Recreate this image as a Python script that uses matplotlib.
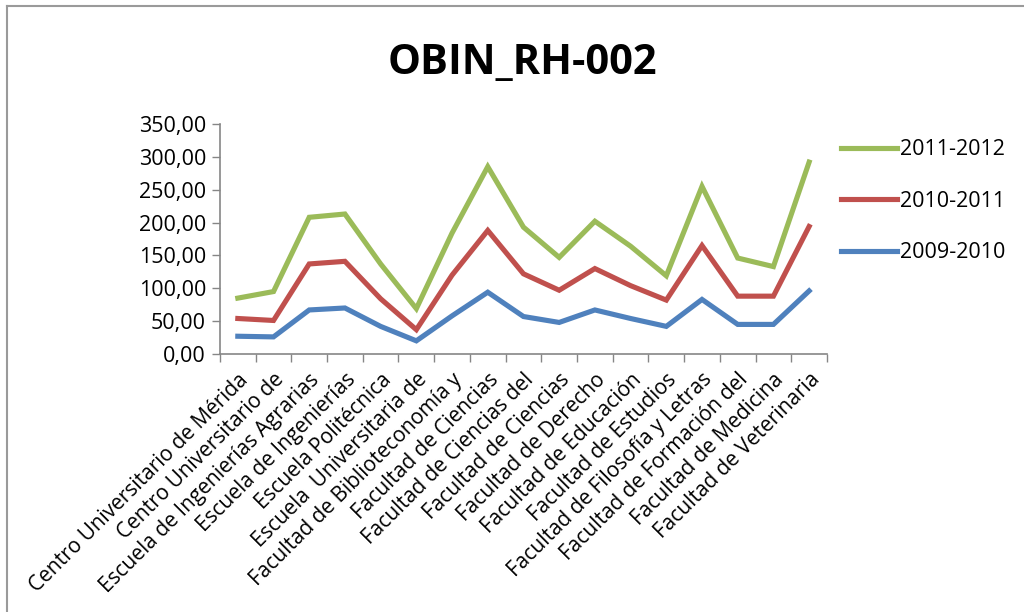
import matplotlib.pyplot as plt
import numpy as np
from matplotlib.ticker import FuncFormatter, MultipleLocator

centros = [
    "Centro Universitario de Mérida",
    "Centro Universitario de",
    "Escuela de Ingenierías Agrarias",
    "Escuela de Ingenierías",
    "Escuela Politécnica",
    "Escuela  Universitaria de",
    "Facultad de Biblioteconomía y",
    "Facultad de Ciencias",
    "Facultad de Ciencias del",
    "Facultad de Ciencias",
    "Facultad de Derecho",
    "Facultad de Educación",
    "Facultad de Estudios",
    "Facultad de Filosofía y Letras",
    "Facultad de Formación del",
    "Facultad de Medicina",
    "Facultad de Veterinaria",
]

# values per academic year (plotted stacked)
v_2009_2010 = [27, 26, 67, 70, 42, 20, 58, 94, 57, 48, 67, 54, 42, 83, 45, 45, 96]
v_2010_2011 = [27, 25, 70, 71, 42, 17, 62, 94, 65, 49, 63, 50, 40, 82, 43, 43, 98]
v_2011_2012 = [31, 44, 71, 72, 53, 32, 64, 97, 71, 50, 72, 60, 37, 90, 58, 45, 98]

series = [("2009-2010", v_2009_2010, "#4F81BD"),
          ("2010-2011", v_2010_2011, "#C0504D"),
          ("2011-2012", v_2011_2012, "#9BBB59")]

plt.rcParams["font.family"] = ["Open Sans", "DejaVu Sans"]

fig = plt.figure(figsize=(10.24, 6.12), dpi=100)
ax = fig.add_axes([0.2148, 0.4216, 0.5928, 0.3758])

x = np.arange(len(centros))
acum = np.zeros(len(centros))
lines = []
for nombre, vals, color in series:
    acum = acum + np.array(vals)
    ln, = ax.plot(x, acum, color=color, lw=3.7, solid_joinstyle="miter",
                  label=nombre)
    lines.append(ln)

ax.set_xlim(-0.5, len(centros) - 0.5)
ax.set_ylim(0, 350)
ax.yaxis.set_major_locator(MultipleLocator(50))
ax.yaxis.set_major_formatter(FuncFormatter(lambda v, p: f"{v:.2f}".replace(".", ",")))

ax.set_xticks(x)
ax.set_xticklabels(centros, rotation=45, ha="right", rotation_mode="anchor")
ax.set_xticks(np.arange(-0.5, len(centros)), minor=True)
ax.tick_params(axis="x", which="major", length=0, pad=11, labelsize=15)
ax.tick_params(axis="x", which="minor", length=6, color="#868686", width=1)
ax.tick_params(axis="y", length=6, color="#868686", width=1, labelsize=15.5, pad=4)

for s in ["top", "right"]:
    ax.spines[s].set_visible(False)
for s in ["left", "bottom"]:
    ax.spines[s].set_color("#868686")
    ax.spines[s].set_linewidth(1.2)

fig.text(0.51, 0.897, "OBIN_RH-002", ha="center", va="center",
         fontsize=30, fontweight="bold")

ax.legend(lines[::-1], [l.get_label() for l in lines[::-1]],
          loc="upper left", bbox_to_anchor=(0.991, 1.018), frameon=False,
          fontsize=15.5, handlelength=2.6, handletextpad=0.15,
          labelspacing=1.42)

# chart area border
fig.add_artist(plt.Line2D([0.0068, 1.0], [0.9895, 0.9895], color="#9a9a9a", lw=1.5))
fig.add_artist(plt.Line2D([0.0068, 0.0068], [0.0, 0.9895], color="#9a9a9a", lw=1.5))

fig.savefig("out.png", dpi=100)
